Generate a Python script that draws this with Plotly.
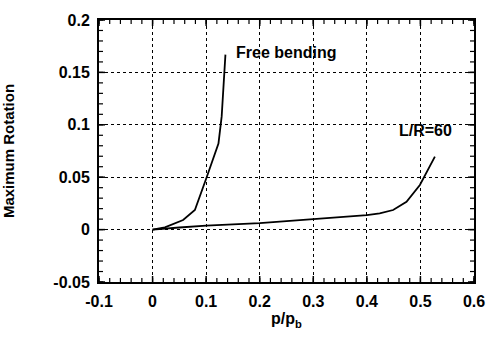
import plotly.graph_objects as go

# Free bending curve
free_x = [0.0, 0.023, 0.057, 0.079, 0.101, 0.123, 0.129, 0.133, 0.136]
free_y = [0.0, 0.0022, 0.0092, 0.0187, 0.050, 0.082, 0.108, 0.149, 0.167]

# L/R = 60 curve
lr_x = [0.0, 0.02, 0.05, 0.1, 0.2, 0.3, 0.4, 0.424, 0.449, 0.474, 0.499, 0.527]
lr_y = [0.0, 0.0010, 0.0020, 0.0037, 0.0062, 0.0100, 0.0138, 0.0155, 0.0187, 0.0266, 0.0426, 0.0696]

x_ticks = [-0.1, 0, 0.1, 0.2, 0.3, 0.4, 0.5, 0.6]
x_labels = ["-0.1", "0", "0.1", "0.2", "0.3", "0.4", "0.5", "0.6"]
y_ticks = [-0.05, 0, 0.05, 0.1, 0.15, 0.2]
y_labels = ["-0.05", "0", "0.05", "0.1", "0.15", "0.2"]
x_minor = [round(-0.1 + 0.02 * i, 3) for i in range(36)]
y_minor = [round(-0.05 + 0.01 * i, 3) for i in range(26)]

x_range = [-0.1, 0.6]
y_range = [-0.05, 0.2]

W, H = 487, 337
M = dict(l=99, r=13, t=20, b=55)
plot_w = W - M["l"] - M["r"]
plot_h = H - M["t"] - M["b"]

font = "Liberation Sans, Arial, sans-serif"

fig = go.Figure()
fig.add_trace(go.Scatter(x=free_x, y=free_y, mode="lines",
                         line=dict(color="black", width=1.8), showlegend=False))
fig.add_trace(go.Scatter(x=lr_x, y=lr_y, mode="lines",
                         line=dict(color="black", width=1.8), showlegend=False))

fig.add_annotation(x=0.152, y=0.169, text="Free bending", showarrow=False,
                   xanchor="left", yanchor="middle",
                   font=dict(family=font, size=16, color="black", weight="bold"))
fig.add_annotation(x=0.456, y=0.095, text="L/R=60", showarrow=False,
                   xanchor="left", yanchor="middle",
                   font=dict(family=font, size=16, color="black", weight="bold"))

# inside tick marks on all four sides, drawn as shapes
def add_ticks(vals, length_px, width):
    fx = length_px / plot_h
    for v in vals:
        for y0, y1 in ((0, fx), (1, 1 - fx)):
            fig.add_shape(type="line", xref="x", yref="paper", x0=v, x1=v, y0=y0, y1=y1,
                          line=dict(color="black", width=width), layer="above")

def add_yticks(vals, length_px, width):
    fy = length_px / plot_w
    for v in vals:
        for x0, x1 in ((0, fy), (1, 1 - fy)):
            fig.add_shape(type="line", xref="paper", yref="y", x0=x0, x1=x1, y0=v, y1=v,
                          line=dict(color="black", width=width), layer="above")

add_ticks(x_minor, 4, 1.2)
add_ticks(x_ticks, 6, 1.5)
add_yticks(y_minor, 4, 1.2)
add_yticks(y_ticks, 6, 1.5)

axis_common = dict(
    showline=True, linecolor="black", linewidth=2, mirror=True,
    ticks="", showgrid=True, gridcolor="black", gridwidth=1, griddash="dot",
    zeroline=False, automargin=False, ticklabelstandoff=4,
    tickfont=dict(family=font, size=16, color="black", weight="bold"),
)

fig.update_xaxes(range=x_range, tickmode="array", tickvals=x_ticks, ticktext=x_labels,
                 title=dict(text="p/p<sub>b</sub>", standoff=4,
                            font=dict(family=font, size=16, color="black", weight="bold")),
                 **axis_common)
fig.update_yaxes(range=y_range, tickmode="array", tickvals=y_ticks, ticktext=y_labels,
                 title=dict(text="Maximum Rotation", standoff=39,
                            font=dict(family=font, size=15, color="black", weight="bold")),
                 **axis_common)

fig.update_layout(width=W, height=H, margin=M,
                  plot_bgcolor="white", paper_bgcolor="white")

fig.write_html("out.html")
